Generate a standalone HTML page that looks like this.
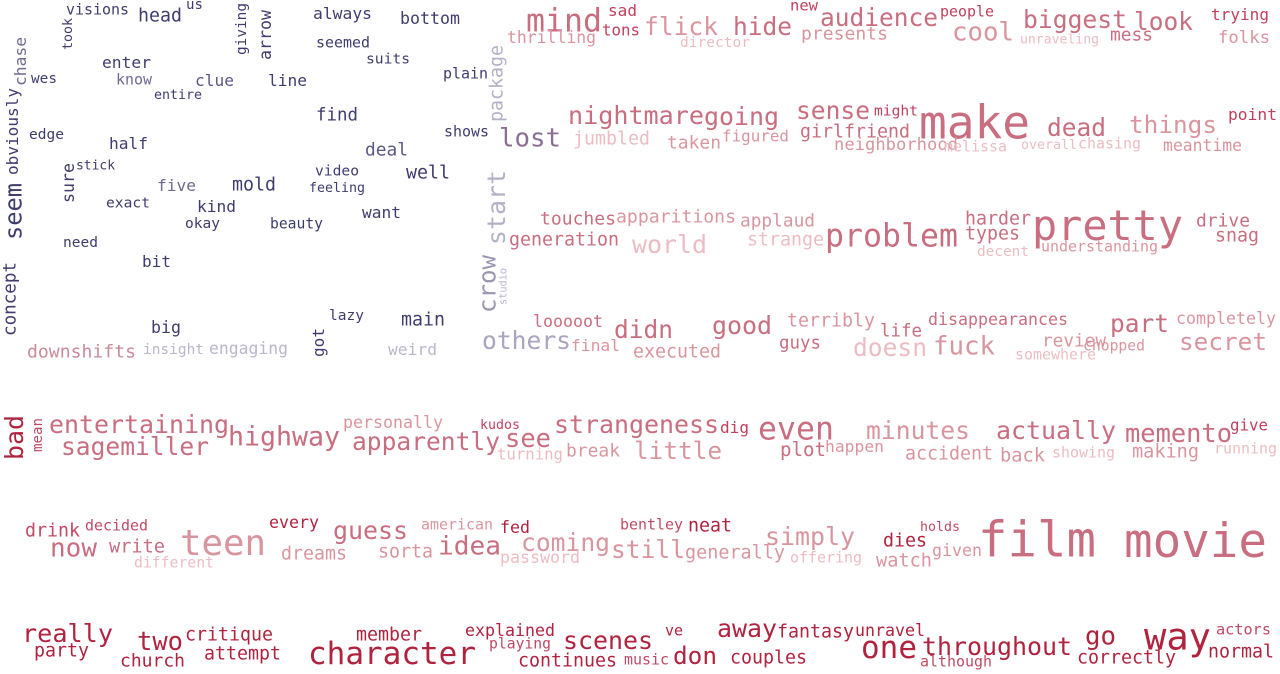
<!DOCTYPE html>
<html><head><meta charset="utf-8"><style>
html,body{margin:0;padding:0;background:#fff;}
svg{display:block;font-family:"DejaVu Sans Mono","Liberation Mono",monospace;}
</style></head>
<body>
<svg id="cloud" width="1280" height="674" viewBox="0 0 1280 674" xmlns="http://www.w3.org/2000/svg"></svg>
<script>
const N="#3f3c6e",L="#6e6a92",P="#bab6cc",A="#c86e80",B="#d9959f",C="#ecbcc4",D="#c0405e",E="#b0233f",F="#c04a64";
// [text, left/center-x, center-y/bottom-y, length, color, vertical]
const words=[
["visions",66,9,63,N],["head",138,15,44,N],["us",186,4,17,N],["took",67,50,32,N,1],["giving",241,55,52,N,1],["arrow",265,60,50,N,1],
["always",313,13,59,N],["bottom",400,18,60,N],["seemed",316,42,54,N],["suits",366,58,44,N],["chase",20,86,49,L,1],["wes",31,78,26,N],
["enter",102,62,49,N],["know",116,79,36,L],["clue",195,80,39,"#5a5785"],["line",268,80,39,N],["entire",154,94,48,N],["plain",443,73,45,N],
["obviously",12,175,87,N,1],["find",316,114,42,N],["edge",29,134,35,N],["half",109,143,39,N],["shows",444,131,45,N],["deal",365,149,43,"#5a5785"],
["sure",68,203,40,N,1],["stick",76,165,39,N],["seem",13,240,57,N,1],["video",315,170,44,N],["well",406,172,44,N],["five",157,185,39,L],
["mold",232,184,44,N],["feeling",309,187,56,N],["exact",106,202,44,N],["kind",197,206,39,N],["want",362,212,39,N],["okay",185,223,35,N],
["beauty",270,223,53,N],["need",63,242,35,N],["bit",142,261,29,N],["concept",9,336,74,N,1],["lazy",329,315,35,N],["main",401,319,44,N],
["big",151,327,30,N],["got",318,357,29,N,1],["downshifts",27,351,109,"#c98a9b"],["insight",143,349,61,P],["engaging",209,348,79,P],["weird",388,349,49,P],
["package",496,122,77,"#b5b0c5",1],["start",496,245,75,"#b5b0c5",1],["crow",487,313,58,"#9a95b0",1],["studio",503,305,37,P,1],
["lost",499,137,62,"#8a6f93"],["others",482,340,89,"#aaa5c0"],
["mind",526,20,76,A],["sad",608,10,29,D],["new",790,5,28,D],["audience",820,17,118,A],["people",940,11,54,D],["trying",1211,14,58,D],
["tons",602,30,38,D],["flick",644,26,74,B],["hide",733,26,59,A],["biggest",1023,19,104,A],["look",1134,21,59,A],["thrilling",507,37,89,B],
["director",680,42,70,C],["presents",801,33,87,B],["cool",952,31,62,B],["unraveling",1020,39,79,C],["mess",1110,34,43,A],["folks",1218,37,52,B],
["nightmare",568,115,136,A],["going",704,116,75,A],["sense",796,110,74,A],["might",874,110,44,D],["make",919,122,111,A],["dead",1047,127,59,A],
["things",1129,124,88,B],["point",1228,114,49,D],["jumbled",573,138,77,C],["taken",667,142,54,B],["figured",722,136,67,B],["girlfriend",800,131,110,A],
["neighborhood",834,144,124,B],["melissa",944,146,63,C],["overall",1021,144,56,C],["chasing",1078,143,63,C],["meantime",1163,145,79,B],
["touches",540,218,76,A],["apparitions",616,216,120,B],["applaud",740,220,75,B],["harder",965,218,66,A],["pretty",1032,225,151,A],["drive",1196,220,54,A],
["problem",825,235,133,A],["types",965,233,55,A],["snag",1215,235,44,A],["generation",509,239,110,A],["world",632,244,75,C],["strange",747,239,77,C],
["understanding",1041,246,117,B],["decent",977,251,52,C],["looooot",533,321,70,A],["terribly",787,320,88,B],["disappearances",928,319,140,A],
["part",1110,323,59,A],["completely",1176,318,100,B],["didn",614,329,59,A],["good",712,325,60,A],["life",880,330,42,A],["review",1042,340,64,B],
["final",571,345,49,B],["executed",633,351,88,B],["guys",779,342,42,A],["doesn",853,347,74,C],["fuck",933,345,62,B],["chopped",1083,345,62,B],
["secret",1179,341,88,B],["somewhere",1015,354,81,C],
["bad",14,460,45,E,1],["mean",37,452,34,F,1],["entertaining",49,424,180,A],["sagemiller",61,446,148,A],["highway",228,436,112,A],["personally",343,422,100,B],
["apparently",352,441,148,A],["kudos",480,424,40,D],["see",505,438,46,A],["turning",497,454,66,C],["strangeness",554,424,165,A],["break",566,450,54,B],
["dig",720,427,29,D],["little",634,450,88,B],["even",758,428,76,A],["plot",780,449,46,A],["happen",825,446,59,B],["minutes",866,430,104,B],
["accident",905,453,88,B],["actually",996,430,120,A],["back",1000,455,45,B],["showing",1052,452,63,C],["memento",1125,433,107,A],["making",1132,451,67,B],
["give",1230,425,38,D],["running",1214,448,63,C],
["drink",25,530,55,F],["decided",85,525,63,F],["every",269,522,50,E],["guess",333,530,75,A],["american",421,524,72,B],["fed",500,527,30,E],
["bentley",620,524,63,F],["neat",688,525,44,E],["holds",920,526,40,F],["film",978,539,118,A],["movie",1124,540,143,A],["now",50,547,47,A],
["write",109,546,56,A],["teen",180,542,86,B],["dreams",281,553,66,B],["sorta",378,551,55,B],["idea",438,545,63,A],["coming",521,542,89,B],
["still",611,549,74,B],["generally",685,552,100,B],["simply",765,536,90,B],["dies",883,540,44,E],["given",932,550,50,B],["watch",876,560,56,B],
["offering",790,557,72,C],["different",134,562,80,C],["password",500,557,80,C],
["really",22,633,91,E],["two",137,641,46,E],["critique",185,634,88,E],["member",356,634,66,E],["explained",465,630,90,E],["ve",665,630,18,E],
["away",717,628,60,E],["fantasy",777,631,77,E],["unravel",855,630,70,E],["party",34,650,55,E],["church",120,660,65,E],["attempt",204,653,77,E],
["character",308,653,168,E],["playing",489,643,62,F],["scenes",563,640,90,E],["continues",518,660,99,E],["music",624,659,45,F],["don",673,655,44,E],
["couples",730,657,77,E],["one",861,647,56,E],["throughout",922,646,150,E],["although",920,661,72,F],["go",1085,635,31,E],["way",1144,636,67,E],
["actors",1216,629,55,F],["correctly",1077,657,99,E],["normal",1208,651,66,E]
];
const svg=document.getElementById('cloud');
const NS="http://www.w3.org/2000/svg";
words.forEach(w=>{
  const [t,x,y,len,col,vert]=w;
  const fs=len/(t.length*0.602);
  const el=document.createElementNS(NS,'text');
  el.textContent=t;
  el.setAttribute('font-size',fs.toFixed(1));
  el.setAttribute('fill',col);
  el.setAttribute('textLength',len);
  el.setAttribute('lengthAdjust','spacingAndGlyphs');
  if(vert){
    el.setAttribute('transform','translate('+(x+fs*0.36)+','+y+') rotate(-90)');
  }else{
    el.setAttribute('x',x);
    el.setAttribute('y',y+fs*0.36);
  }
  
  
  svg.appendChild(el);
});
</script>
</body></html>
